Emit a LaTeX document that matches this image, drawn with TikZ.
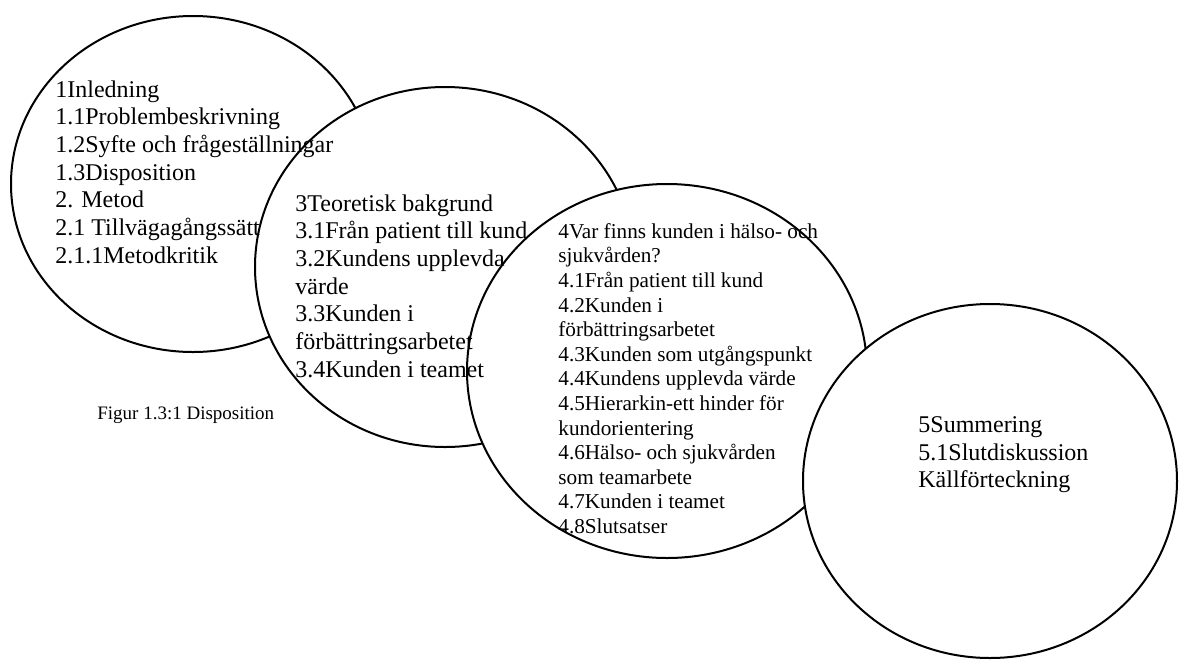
\documentclass[tikz,border=0pt]{standalone}
\usepackage{fontspec}
\setmainfont{Liberation Serif}
\usetikzlibrary{shapes.geometric}

\begin{document}
\begin{tikzpicture}[x=0.5pt, y=-0.5pt,
  bubble/.style={ellipse, draw, fill=white, line width=1pt, inner sep=0pt},
  list/.style={anchor=north west, align=left, inner sep=0pt, font=\fontsize{12}{13.85}\selectfont},
  smalllist/.style={list, font=\fontsize{10.6}{12.3}\selectfont}]
\useasboundingbox (0,0) rectangle (1179,660);
% the four chapters, drawn left to right so that each one covers the last
\node[bubble, minimum width=182pt, minimum height=168pt] (inl) at (193,184) {};
\node[bubble, minimum width=190pt, minimum height=180pt] (teori) at (445,267) {};
\node[bubble, minimum width=200pt, minimum height=187pt] (analys) at (667,371) {};
\node[bubble, minimum width=187pt, minimum height=177pt] (summ) at (990,481) {};
% contents
\node[list] (inltext) at (55,80) {1Inledning\\1.1Problembeskrivning\\1.2Syfte och frågeställningar\\1.3Disposition\\2. Metod\\2.1 Tillvägagångssätt\\2.1.1Metodkritik};
\node[list] (teoritext) at (295,194) {3Teoretisk bakgrund\\3.1Från patient till kund\\3.2Kundens upplevda\\värde\\3.3Kunden i\\förbättringsarbetet\\3.4Kunden i teamet};
\node[smalllist] (analystext) at (558,223) {4Var finns kunden i hälso- och\\sjukvården?\\4.1Från patient till kund\\4.2Kunden i\\förbättringsarbetet\\4.3Kunden som utgångspunkt\\4.4Kundens upplevda värde\\4.5Hierarkin-ett hinder för\\kundorientering\\4.6Hälso- och sjukvården\\som teamarbete\\4.7Kunden i teamet\\4.8Slutsatser};
\node[list] (summtext) at (918,416) {5Summering\\5.1Slutdiskussion\\Källförteckning};
\node[anchor=base west, inner sep=0pt, font=\fontsize{9.5}{11}\selectfont] (figtext) at (97,419) {Figur 1.3:1 Disposition};
\end{tikzpicture}
\end{document}
